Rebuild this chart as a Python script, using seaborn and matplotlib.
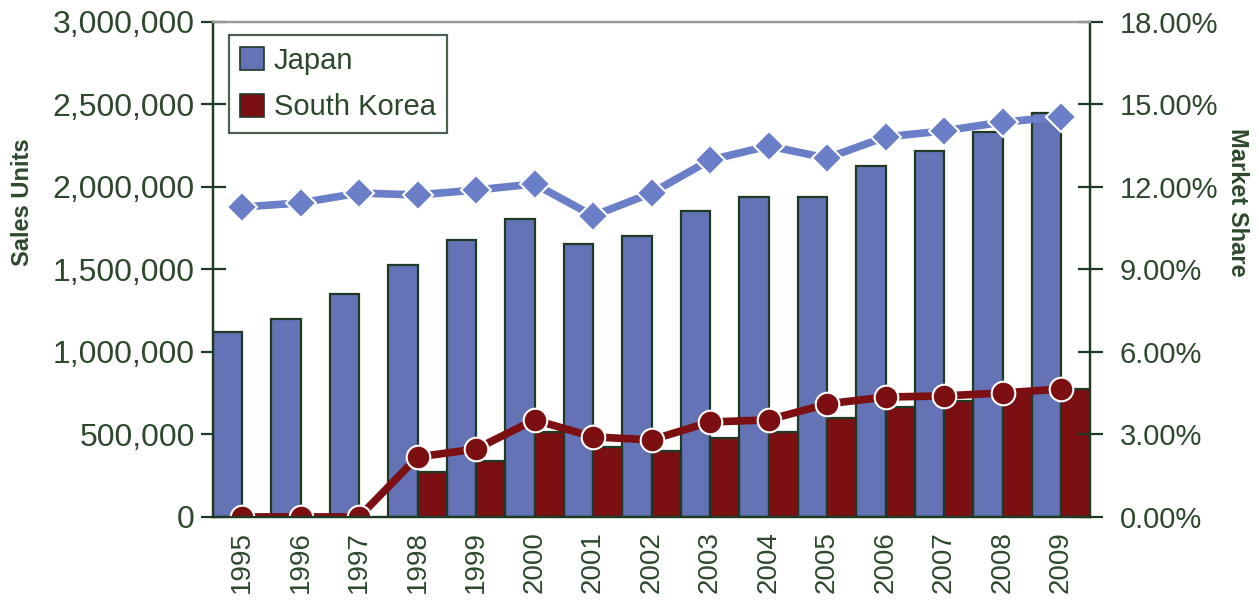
import matplotlib
matplotlib.use("Agg")
from matplotlib import pyplot as plt
from matplotlib.ticker import FuncFormatter, FixedLocator
from matplotlib.patches import Patch
import numpy as np
import pandas as pd
import seaborn as sns

years = [str(y) for y in range(1995, 2010)]
japan_units = [1120000, 1200000, 1352000, 1527000, 1679000, 1806000, 1655000,
               1703000, 1855000, 1940000, 1940000, 2127000, 2218000, 2333000,
               2449000]
# no korean sales reported before 1998
korea_units = [np.nan, np.nan, np.nan, 272000, 339000, 515000, 424000, 400000,
               479000, 515000, 600000, 667000, 703000, 755000, 776000]
japan_share = [11.27, 11.42, 11.78, 11.71, 11.89, 12.11, 10.95, 11.78, 12.98,
               13.49, 13.05, 13.82, 14.04, 14.36, 14.55]
korea_share = [0.0, 0.0, 0.0, 2.18, 2.47, 3.53, 2.91, 2.80, 3.45, 3.53, 4.11,
               4.36, 4.40, 4.51, 4.65]

TXT = "#2e482e"
EDGE = "#1f3a24"
BLUE = "#6473b6"
RED = "#7c0f12"
LBLUE = "#6b7ec8"

sns.set_style("white")
plt.rcParams["font.family"] = ["Liberation Sans", "DejaVu Sans"]

units = pd.DataFrame({
    "year": years * 2,
    "units": japan_units + korea_units,
    "country": ["Japan"] * len(years) + ["South Korea"] * len(years),
})

fig = plt.figure(figsize=(12.59, 6.11), dpi=100)
ax = fig.add_axes([0.169, 0.154, 0.697, 0.810])

sns.barplot(data=units, x="year", y="units", hue="country",
            hue_order=["Japan", "South Korea"], palette=[BLUE, RED],
            width=1.0, edgecolor=EDGE, linewidth=1.6, saturation=1,
            errorbar=None, ax=ax, legend=False)

ax2 = ax.twinx()
sns.pointplot(x=years, y=japan_share, color=LBLUE, markers="D",
              errorbar=None, ax=ax2, linewidth=5.5, markersize=15,
              markeredgecolor="white", markeredgewidth=1.5)
sns.pointplot(x=years, y=korea_share, color=RED, markers="o",
              errorbar=None, ax=ax2, linewidth=5.5, markersize=17,
              markeredgecolor="white", markeredgewidth=1.5)

ax.set_ylim(0, 3000000)
ax2.set_ylim(0, 18)
ax.set_xlim(-0.5, len(years) - 0.5)
ax2.set_xlim(-0.5, len(years) - 0.5)

ax.set_yticks(range(0, 3000001, 500000))
ax.yaxis.set_major_formatter(FuncFormatter(lambda v, p: f"{int(v):,}"))
ax2.set_yticks(range(0, 19, 3))
ax2.yaxis.set_major_formatter(FuncFormatter(lambda v, p: f"{v:.2f}%"))

ax.set_xticks(range(len(years)))
ax.set_xticklabels(years, rotation=90)
ax.xaxis.set_minor_locator(FixedLocator([i - 0.5 for i in range(len(years) + 1)]))
ax.tick_params(axis="x", which="major", length=0, pad=10, labelsize=20,
               labelcolor=TXT)
ax.tick_params(axis="x", which="minor", length=9, width=1.6, color=EDGE,
               direction="out")
ax2.tick_params(axis="x", which="both", length=0, labelbottom=False)

ax.tick_params(axis="y", length=18, width=1.6, color=EDGE, direction="inout",
               labelsize=23, labelcolor=TXT, pad=4)
ax2.tick_params(axis="y", length=18, width=1.6, color=EDGE, direction="inout",
                labelsize=21, labelcolor=TXT, pad=12)

ax.set_xlabel("")
ax.set_ylabel("Sales Units", fontsize=17, fontweight="bold", color=TXT)
ax.yaxis.set_label_coords(-0.204, 0.635)
ax2.set_ylabel("Market Share", fontsize=17, fontweight="bold", color=TXT,
               rotation=270, va="center")
ax2.yaxis.set_label_coords(1.168, 0.635)

for a in (ax, ax2):
    for side in ("left", "right", "bottom"):
        a.spines[side].set_color(EDGE)
        a.spines[side].set_linewidth(1.6)
    a.spines["top"].set_color("#999999")
    a.spines["top"].set_linewidth(1.6)

handles = [Patch(facecolor=BLUE, edgecolor=EDGE, linewidth=1.2),
           Patch(facecolor=RED, edgecolor=EDGE, linewidth=1.2)]
leg = ax2.legend(handles, ["Japan", "South Korea"], loc="upper left",
                 bbox_to_anchor=(0.018, 0.974), borderaxespad=0, fontsize=21,
                 frameon=True, fancybox=False, handlelength=0.8,
                 handleheight=0.8, handletextpad=0.35, borderpad=0.4,
                 labelspacing=0.65, labelcolor=TXT)
leg.get_frame().set_edgecolor(EDGE)
leg.get_frame().set_linewidth(1.6)

fig.savefig("out.png", dpi=100)
